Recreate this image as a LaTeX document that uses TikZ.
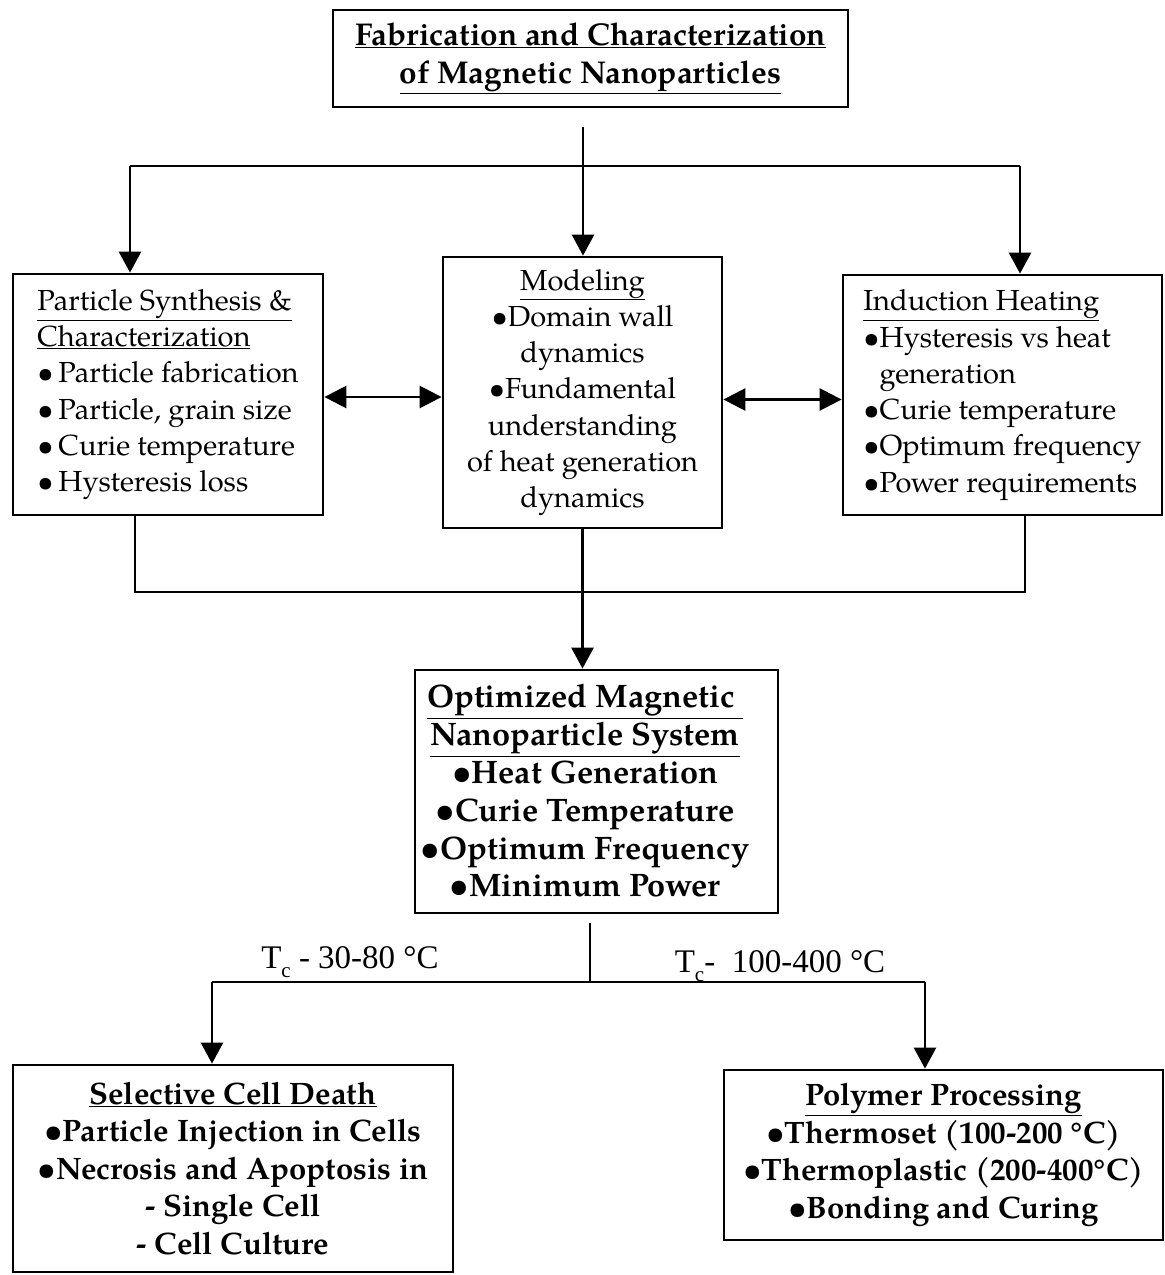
\documentclass[tikz,border=0pt]{standalone}
\usepackage{fontspec}
\setmainfont{TeX Gyre Pagella}
\newfontfamily\lblfont{Liberation Serif}
\usetikzlibrary{arrows.meta}
\begin{document}
\begin{tikzpicture}[x=1pt,y=-1pt,
  box/.style={draw, line width=2.8pt, rectangle, inner sep=0pt},
  rtext/.style={font=\fontsize{29}{36.3}\selectfont},
  btext/.style={font=\fontsize{31}{37.5}\selectfont\bfseries},
  conn/.style={line width=2.6pt},
  arr/.style={conn, -{Triangle[length=21pt,width=22pt]}},
  dbl/.style={conn, {Triangle[length=22pt,width=22pt]}-{Triangle[length=22pt,width=22pt]}},
  lbl/.style={font=\lblfont\fontsize{33}{33}\selectfont, inner sep=0pt, anchor=base}
]
\useasboundingbox (0,0) rectangle (1165,1275);

% boxes
\node[box, font=\fontsize{31.5}{38}\selectfont\bfseries, minimum width=515pt, minimum height=97pt, align=center] (top) at (590.5,58.5)
  {\underline{Fabrication and Characterization}\\ \underline{of Magnetic Nanoparticles}};

\node[box, rtext, minimum width=310pt, minimum height=241pt, align=left] (psc) at (168,394.5)
  {\underline{Particle Synthesis \&}\\ \underline{Characterization}\\ •\,Particle fabrication\\ •\,Particle, grain size\\ •\,Curie temperature\\ •\,Hysteresis loss};

\node[box, rtext, minimum width=279pt, minimum height=271pt, align=center] (mod) at (582.5,392.5)
  {\underline{Modeling}\\ •Domain wall\\ dynamics\\ •Fundamental\\ understanding\\ of heat generation\\ dynamics};

\node[box, rtext, minimum width=319pt, minimum height=240pt, align=left] (ih) at (1002.5,395)
  {\underline{Induction Heating}\\ •Hysteresis vs heat\\ \phantom{•}generation\\ •Curie temperature\\ •Optimum frequency\\ •Power requirements};

\node[box, minimum width=363pt, minimum height=243pt] (opt) at (596.5,791.5) {};
\node[font=\fontsize{32.5}{37.8}\selectfont\bfseries, align=center, inner sep=0pt] (optt) at (585,791)
  {\underline{Optimized Magnetic\hspace{8pt}}\\ \underline{Nanoparticle System}\\ •Heat Generation\\ •Curie Temperature\\ •Optimum Frequency\\ •Minimum Power};

\node[box, btext, minimum width=440pt, minimum height=207pt, align=center] (scd) at (233,1168.5)
  {\underline{Selective Cell Death}\\ •Particle Injection in Cells\\ •Necrosis and Apoptosis in\\ - Single Cell\\ - Cell Culture};

\node[box, btext, minimum width=439pt, minimum height=170pt, align=center] (pp) at (943.5,1155)
  {\underline{Polymer Processing}\\ •Thermoset (100-200 °C)\\ •Thermoplastic (200-400°C)\\ •Bonding and Curing};

% connectors top
\coordinate (ts) at (583,127);
\coordinate (hl) at (130,166);
\coordinate (hr) at (1020,166);
\draw[arr] (ts) -- (ts |- mod.north);
\draw[conn] (hl) -- (hr);
\draw[arr] (hl) -- (hl |- psc.north);
\draw[arr] (hr) -- (hr |- ih.north);

% double arrows
\draw[dbl] ([yshift=-2.5pt]psc.east) -- ([yshift=-2.5pt]psc.east -| mod.west);
\draw[dbl] ([yshift=-7pt]mod.east) -- ([yshift=-7pt]mod.east -| ih.west);

% collector
\coordinate (cl) at (135,592);
\coordinate (cr) at (1025,592);
\draw[conn] (psc.south -| cl) -- (cl) -- (cr) -- (ih.south -| cr);
\draw[arr] (mod.south) -- (mod.south |- opt.north);

% split
\coordinate (sp0) at (590,923);
\coordinate (sp) at (590,982);
\coordinate (sl) at (212,982);
\coordinate (sr) at (925,982);
\draw[conn] (sp0) -- (sp);
\draw[conn] (sl) -- (sr);
\draw[arr] (sl) -- (sl |- scd.north);
\draw[arr] (sr) -- (sr |- pp.north);

% labels
\node[lbl] (t1) at (350,968) {T\raisebox{-0.3em}{\fontsize{21}{21}\selectfont c} - 30-80 °C};
\node[lbl] (t2) at (780,972) {T\raisebox{-0.3em}{\fontsize{21}{21}\selectfont c}-\ \ 100-400 °C};
\end{tikzpicture}
\end{document}
